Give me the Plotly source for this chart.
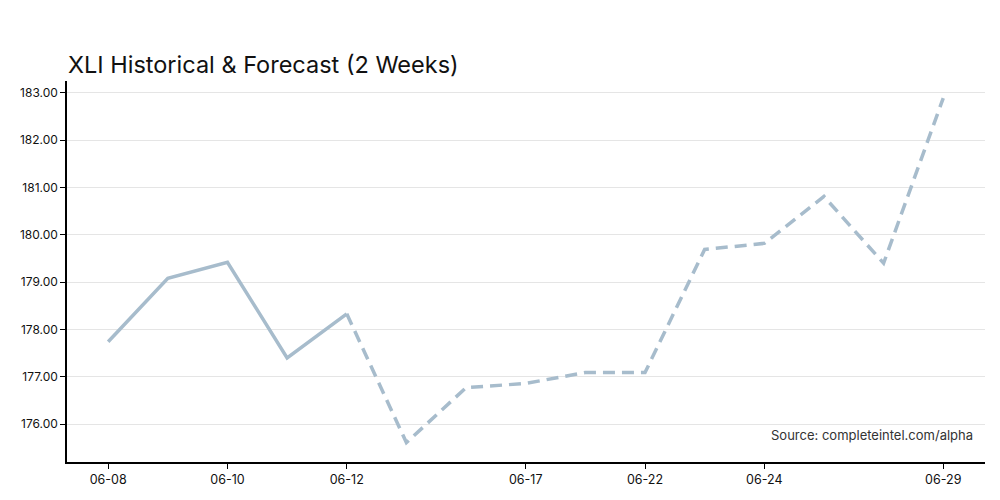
import plotly.graph_objects as go

# dates (category axis, trading days)
hist_dates = ["06-08", "06-09", "06-10", "06-11", "06-12"]
hist_values = [177.74, 179.08, 179.42, 177.40, 178.33]

fc_dates = ["06-12", "06-13", "06-15", "06-17", "06-20", "06-22", "06-23",
            "06-24", "06-26", "06-27", "06-29"]
fc_values = [178.33, 175.61, 176.77, 176.86, 177.09, 177.09, 179.69,
             179.82, 180.81, 179.40, 182.89]

tick_labels = ["06-08", "06-10", "06-12", "06-17", "06-22", "06-24", "06-29"]

all_dates = hist_dates + fc_dates[1:]
line_color = "#a7bccc"

fig = go.Figure()
fig.add_trace(go.Scatter(x=hist_dates, y=hist_values, mode="lines",
                         name="Historical",
                         line=dict(color=line_color, width=3.5)))
fig.add_trace(go.Scatter(x=fc_dates, y=fc_values, mode="lines",
                         name="Forecast",
                         line=dict(color=line_color, width=3.5, dash="12px,7px")))

fig.update_layout(
    width=1000, height=500,
    plot_bgcolor="white", paper_bgcolor="white",
    font=dict(family="Inter, Roboto, sans-serif", color="#111111", size=12),
    title=dict(text="XLI Historical & Forecast (2 Weeks)", x=0.06, xanchor="left",
               y=0.886, yanchor="middle", font=dict(size=23.5, color="#111111")),
    margin=dict(l=59, r=23, t=73, b=46),
    showlegend=False,
)
fig.update_xaxes(
    type="category", categoryorder="array", categoryarray=all_dates,
    tickmode="array", tickvals=tick_labels, ticktext=tick_labels,
    range=[-0.69, 14.7],
    showline=True, linecolor="black", linewidth=1.5,
    ticks="outside", ticklen=5, tickcolor="black",
    showgrid=False, tickfont=dict(size=12.5),
)
fig.update_yaxes(
    range=[175.2, 183.25], dtick=1, tick0=176, tickformat=".2f",
    showline=True, linecolor="black", linewidth=1.5,
    ticks="outside", ticklen=5, tickcolor="black",
    showgrid=True, gridcolor="#e5e5e5", gridwidth=1,
    zeroline=False, tickfont=dict(size=12),
)
fig.add_annotation(text="Source: completeintel.com/alpha", xref="paper", yref="paper",
                   x=0.989, y=0.071, xanchor="right", yanchor="middle",
                   showarrow=False, font=dict(size=13, color="#333333"))

fig.write_html("out.html")
